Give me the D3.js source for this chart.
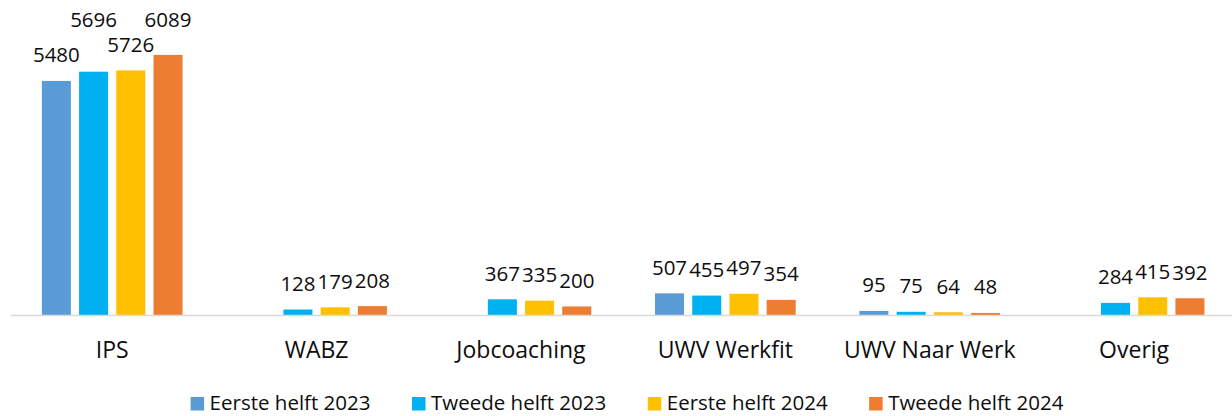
<!DOCTYPE html>
<html>
<head>
<meta charset="utf-8">
<script src="https://cdn.jsdelivr.net/npm/d3@7"></script>
<style>
  html, body { margin: 0; padding: 0; background: #fff; }
  svg { display: block; }
  text { font-family: "Open Sans", "Noto Sans", sans-serif; fill: #0d0d0d; }
</style>
</head>
<body>
<svg id="chart" width="1232" height="416"></svg>
<script>
const categories = ["IPS", "WABZ", "Jobcoaching", "UWV Werkfit", "UWV Naar Werk", "Overig"];
const seriesNames = ["Eerste helft 2023", "Tweede helft 2023", "Eerste helft 2024", "Tweede helft 2024"];
const eersteHelft2023 = [5480, null, null, 507, 95, null];
const tweedeHelft2023 = [5696, 128, 367, 455, 75, 284];
const eersteHelft2024 = [5726, 179, 335, 497, 64, 415];
const tweedeHelft2024 = [6089, 208, 200, 354, 48, 392];
const seriesColors = ["#5B9BD5", "#00B0F0", "#FFC000", "#ED7D31"];
const yDomainMax = 7000;

const seriesValues = [eersteHelft2023, tweedeHelft2023, eersteHelft2024, tweedeHelft2024];

const svg = d3.select("#chart");
const plot = { left: 10, right: 1236.3, top: 16, bottom: 315 };

const x0 = d3.scaleBand().domain(categories).range([plot.left, plot.right]).paddingInner(0).paddingOuter(0);
const x1 = d3.scaleBand().domain(seriesNames).range([0, x0.bandwidth()]).paddingInner(0.22).paddingOuter(0.856);
const y = d3.scaleLinear().domain([0, yDomainMax]).range([plot.bottom, plot.top]);

// bars
const barData = [];
categories.forEach((c, ci) => {
  seriesNames.forEach((s, si) => {
    const v = seriesValues[si][ci];
    if (v !== null && v !== undefined) barData.push({ c, s, si, v });
  });
});

svg.append("g").selectAll("rect").data(barData).join("rect")
  .attr("x", d => x0(d.c) + x1(d.s))
  .attr("width", x1.bandwidth())
  .attr("y", d => y(d.v))
  .attr("height", d => y(0) - y(d.v))
  .attr("fill", d => seriesColors[d.si]);

// axis line + category labels
const xAxis = d3.axisBottom(x0).tickSize(0).tickPadding(0);
const gx = svg.append("g").attr("transform", `translate(0,${plot.bottom})`).call(xAxis);
gx.select(".domain").attr("stroke", "#d9d9d9").attr("stroke-width", 1.6);
gx.selectAll(".tick text")
  .attr("y", 43)
  .attr("dy", 0)
  .style("font-size", "23px")
  .style("font-family", "'Open Sans', sans-serif")
  .attr("fill", "#0d0d0d");

// data labels with simple collision avoidance
const labelFont = 20.5;
const labelOffset = 18.5;
const placed = [];
const labelG = svg.append("g");
barData.forEach(d => {
  const cx = x0(d.c) + x1(d.s) + x1.bandwidth() / 2;
  const t = labelG.append("text")
    .attr("x", cx)
    .attr("text-anchor", "middle")
    .style("font-size", labelFont + "px")
    .text(d.v);
  const w = t.node().getComputedTextLength();
  let base = y(d.v) - labelOffset;
  const xa = cx - w / 2, xb = cx + w / 2;
  const collides = placed.some(p => Math.min(xb, p.xb) - Math.max(xa, p.xa) > 0.5 && Math.abs(p.base - base) < labelFont * 1.1);
  if (collides) {
    const ci = categories.indexOf(d.c);
    const groupMax = d3.max(seriesValues, arr => arr[ci]);
    base = y(groupMax) - labelOffset * 1.5;
  }
  t.attr("y", base);
  placed.push({ xa, xb, base });
});

// legend
const legendG = svg.append("g");
const sq = 13.5, sqGap = 5.5, itemGap = 41.5, legendBase = 410, legendCenter = 627;
const items = seriesNames.map((s, i) => {
  const g = legendG.append("g");
  g.append("rect").attr("x", 0).attr("y", legendBase - 13).attr("width", sq).attr("height", sq).attr("fill", seriesColors[i]);
  const t = g.append("text").attr("x", sq + sqGap).attr("y", legendBase).style("font-size", "20.5px").text(s);
  const w = sq + sqGap + t.node().getComputedTextLength();
  return { g, w };
});
const total = d3.sum(items, d => d.w) + itemGap * (items.length - 1);
let cursor = legendCenter - total / 2;
items.forEach(it => {
  it.g.attr("transform", `translate(${cursor},0)`);
  cursor += it.w + itemGap;
});
</script>
</body>
</html>
